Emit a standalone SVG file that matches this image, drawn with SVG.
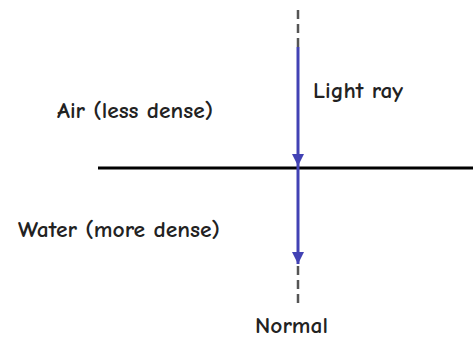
<svg xmlns="http://www.w3.org/2000/svg" width="473" height="343" viewBox="0 0 473 343">
<style>
text{font-family:"Comic Neue","Liberation Sans",sans-serif;font-size:22px;font-weight:bold;fill:#222}
.dash{stroke:#555;stroke-width:2.5;stroke-dasharray:9 5;fill:none}
.ray{stroke:#4242b4;stroke-width:3;fill:none}
</style>
<defs>
<marker id="ah" viewBox="0 0 10 10" refX="10" refY="5" markerWidth="4" markerHeight="4" markerUnits="strokeWidth" orient="auto">
<path d="M0,0 L10,5 L0,10 Z" fill="#4242b4"/>
</marker>
</defs>
<g id="surface"><line x1="98" y1="168" x2="473" y2="168" stroke="#000" stroke-width="3"/></g>
<g id="connectors">
<line class="dash" x1="298" y1="10" x2="298" y2="47"/>
<line class="ray" x1="298" y1="47" x2="298" y2="166" marker-end="url(#ah)"/>
<line class="ray" x1="298" y1="166" x2="298" y2="264" marker-end="url(#ah)"/>
<line class="dash" x1="298" y1="266" x2="298" y2="304"/>
</g>
<g id="air"><text x="57" y="118" textLength="156" lengthAdjust="spacingAndGlyphs">Air (less dense)</text></g>
<g id="water"><text x="18" y="237" textLength="202" lengthAdjust="spacingAndGlyphs">Water (more dense)</text></g>
<g id="light"><text x="313" y="98" textLength="90" lengthAdjust="spacingAndGlyphs">Light ray</text></g>
<g id="normal"><text x="255" y="333" textLength="73" lengthAdjust="spacingAndGlyphs">Normal</text></g>
</svg>
